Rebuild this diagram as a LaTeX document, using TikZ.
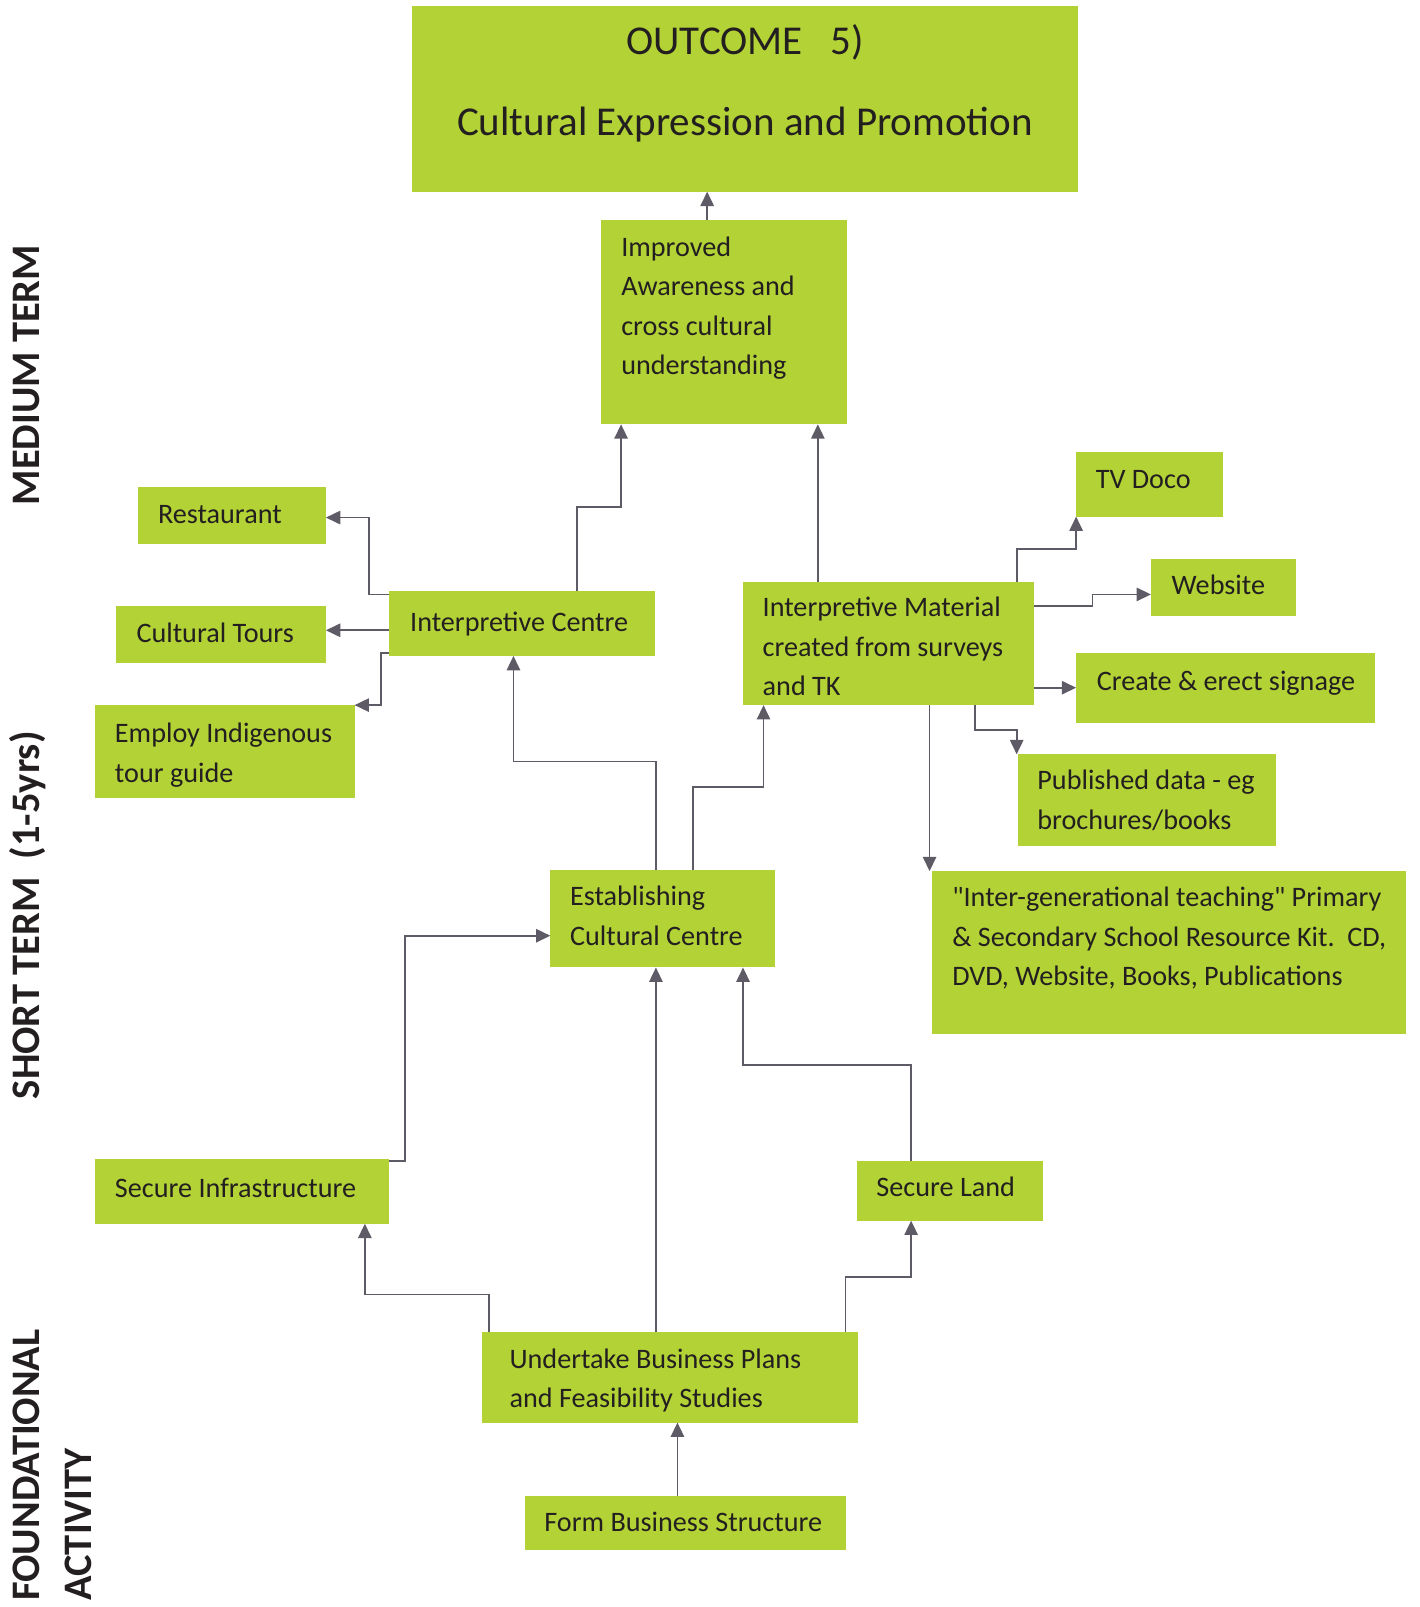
\documentclass[tikz,border=0pt]{standalone}
\usepackage{fontspec}
\setmainfont{Carlito}[Ligatures=TeXOff]
\usetikzlibrary{arrows.meta}

\definecolor{boxgreen}{RGB}{178,210,53}
\definecolor{linkgray}{RGB}{95,91,102}
\definecolor{ink}{RGB}{35,31,32}

% green box from its top-left corner (#2,#3) to its bottom-right corner (#4,#5)
\newcommand{\gbox}[5]{%
  \node[gbx, anchor=north west, minimum width={(#4-#2)*1pt}, minimum height={(#5-#3)*1pt}] (#1) at (#2,#3) {};}

\begin{document}
\begin{tikzpicture}[x=1pt, y=-1pt,
  gbx/.style={fill=boxgreen, draw=none, inner sep=0pt, outer sep=0pt},
  lbl/.style={font=\fontsize{27.5}{38.6}\selectfont, text=ink, inner sep=0pt, align=left, anchor=west},
  big/.style={font=\fontsize{40}{47}\selectfont, text=ink, inner sep=0pt},
  side/.style={font=\bfseries\fontsize{39.5}{47}\selectfont, text=ink, inner sep=0pt, rotate=90},
  arr/.style={draw=linkgray, line width=1.8pt, -{Triangle[length=14pt, width=13pt]}}]

\useasboundingbox (0,0) rectangle (1385,1568);

% ---- boxes ----
\gbox{out}{402}{6}{1052}{187}
\gbox{imp}{586}{215}{826}{414}
\gbox{rest}{135}{475}{318}{531}
\gbox{tours}{113}{591}{318}{647}
\gbox{guide}{93}{688}{346}{779}
\gbox{ic}{380}{577}{639}{640}
\gbox{im}{725}{568}{1009}{688}
\gbox{tv}{1050}{441}{1193}{504}
\gbox{web}{1123}{545}{1265}{601}
\gbox{sign}{1050}{637}{1342}{705}
\gbox{pub}{993}{736}{1245}{825}
\gbox{inter}{909}{850}{1372}{1009}
\gbox{ecc}{537}{849}{756}{944}
\gbox{sinf}{93}{1131}{380}{1194}
\gbox{sland}{836}{1133}{1018}{1191}
\gbox{ubp}{470}{1300}{837}{1388}
\gbox{fbs}{512}{1460}{825}{1512}

% ---- box texts ----
\node[big] (out-a) at (727,41) {OUTCOME\ \ \ 5)};
\node[big] (out-b) at (727,122) {Cultural Expression and Promotion};
\node[lbl] (imp-t) at (606,300) {\strut Improved\\Awareness and\\cross cultural\\understanding\strut};
\node[lbl] (rest-t) at (154,503) {\strut Restaurant};
\node[lbl] (tours-t) at (133,619) {\strut Cultural Tours};
\node[lbl] (guide-t) at (112,736) {\strut Employ Indigenous\\tour guide\strut};
\node[lbl] (ic-t) at (400,608) {\strut Interpretive Centre};
\node[lbl] (im-t) at (744,632.5) {\strut Interpretive Material\\created from surveys\\and TK\strut};
\node[lbl] (tv-t) at (1069,469) {\strut TV Doco};
\node[lbl] (web-t) at (1143,572) {\strut Website};
\node[lbl] (sign-t) at (1070,666) {\strut Create \& erect signage};
\node[lbl] (pub-t) at (1012,782) {\strut Published data - eg\\brochures/books\strut};
\node[lbl] (inter-t) at (929,915.5) {\strut "Inter-generational teaching" Primary\\\& Secondary School Resource Kit.\ \ CD,\\DVD, Website, Books, Publications\strut};
\node[lbl] (ecc-t) at (556,895.5) {\strut Establishing\\Cultural Centre\strut};
\node[lbl] (sinf-t) at (112,1161) {\strut Secure Infrastructure};
\node[lbl] (sland-t) at (855,1160) {\strut Secure Land};
\node[lbl] (ubp-t) at (497,1346.5) {\strut Undertake Business Plans\\and Feasibility Studies\strut};
\node[lbl] (fbs-t) at (531,1487) {\strut Form Business Structure};

% ---- time-frame labels ----
\node[side] (medium) at (26,366) {MEDIUM TERM};
\node[side] (short) at (27,893) {SHORT TERM\ \ (1-5yrs)};
\node[side, anchor=west] (found) at (26,1562) {FOUNDATIONAL};
\node[side, anchor=west] (activity) at (76,1562) {ACTIVITY};

% ---- connectors ----
\draw[arr] (690,0 |- imp.north) -- (690,0 |- out.south);
\draw[arr] (563,0 |- ic.north) |- (606,495) -- (606,0 |- imp.south);
\draw[arr] (798,0 |- im.north) -- (798,0 |- imp.south);
\draw[arr] (0,580 -| ic.west) -| (360,505) -- (0,505 -| rest.east);
\draw[arr] (0,615 -| ic.west) -- (0,615 -| tours.east);
\draw[arr] (0,637 -| ic.west) -| (372,0 |- guide.north) -- (guide.north east);
\draw[arr] (640,0 |- ecc.north) |- (501,743) -- (501,0 |- ic.south);
\draw[arr] (676,0 |- ecc.north) |- (745,768) -- (745,0 |- im.south);
\draw[arr] (992,0 |- im.north) |- (1050,536) -- (1050,0 |- tv.south);
\draw[arr] (0,591 -| im.east) -| (1066,580) -- (0,580 -| web.west);
\draw[arr] (0,671 -| im.east) -- (0,671 -| sign.west);
\draw[arr] (951,0 |- im.south) |- (992,712) -- (992,0 |- pub.north);
\draw[arr] (907,0 |- im.south) -- (907,0 |- inter.north);
\draw[arr] (0,1133 -| sinf.east) -| (395,913) -- (0,913 -| ecc.west);
\draw[arr] (640,0 |- ubp.north) -- (640,0 |- ecc.south);
\draw[arr] (889,0 |- sland.north) |- (725,1039) -- (725,0 |- ecc.south);
\draw[arr] (477,0 |- ubp.north) |- (356,1263) -- (356,0 |- sinf.south);
\draw[arr] (825,0 |- ubp.north) |- (889,1246) -- (889,0 |- sland.south);
\draw[arr] (661,0 |- fbs.north) -- (661,0 |- ubp.south);

\end{tikzpicture}
\end{document}
